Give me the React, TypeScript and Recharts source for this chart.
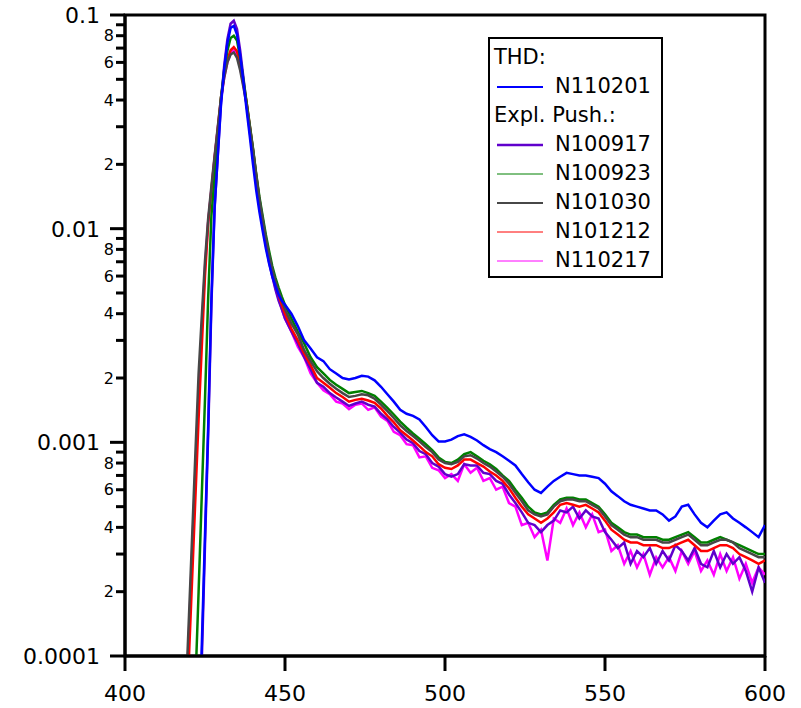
import React from 'react';
import { LineChart, Line, XAxis, YAxis, ReferenceArea, Legend } from 'recharts';

const FONT = '"DejaVu Sans", Verdana, sans-serif';

// Wavelength grid (nm)
const wavelengths = [
  419, 420, 421, 422, 423, 424, 425, 426, 427, 428,
  429, 430, 431, 432, 433, 434, 435, 436, 437, 438,
  439, 440, 441, 442, 443, 444, 445, 446, 447, 448,
  449, 450,
  452, 454, 456, 458, 460, 462, 464, 466, 468, 470,
  472, 474, 476, 478, 480, 482, 484, 486, 488, 490,
  492, 494, 496, 498, 500, 502, 504, 506, 508, 510,
  512, 514, 516, 518, 520, 522, 524, 526, 528, 530,
  532, 534, 536, 538, 540, 542, 544, 546, 548, 550,
  552, 554, 556, 558, 560, 562, 564, 566, 568, 570,
  572, 574, 576, 578, 580, 582, 584, 586, 588, 590,
  592, 594, 596, 598, 600,
];

// THD: N110201 (blue)
const n110201 = [
  5e-6, 8e-6, 1.2e-5, 2e-5, 3.2e-5, 1.12e-4, 3.7e-4, 1.2e-3, 4.7e-3, 0.0126,
  0.0219, 0.038, 0.056, 0.074, 0.087, 0.089, 0.081, 0.0645, 0.049, 0.036,
  0.027, 0.020, 0.0151, 0.012, 0.0098, 0.0081, 0.0069, 0.006, 0.0054, 0.0049,
  0.0046, 0.0044,
  0.0040, 0.0035, 0.0030, 0.00275, 0.0025, 0.0024, 0.0022, 0.0021, 0.0020, 0.00197,
  0.0020, 0.00205, 0.00203, 0.00195, 0.00182, 0.00168, 0.00155, 0.00142, 0.00136, 0.00133,
  0.00128, 0.00118, 0.00108, 0.00101, 0.00101, 0.00103, 0.00107, 0.00109, 0.00106, 0.00102,
  0.00097, 0.00093, 0.0009, 0.00086, 0.00082, 0.00078, 0.00071, 0.00065, 0.0006, 0.00058,
  0.00062, 0.00066, 0.00069, 0.00072, 0.00071, 0.0007, 0.0007, 0.00069, 0.00068, 0.00064,
  0.00059, 0.00056, 0.00053, 0.00051, 0.0005, 0.00049, 0.00048, 0.00048, 0.00046, 0.00043,
  0.00045, 0.0005, 0.00051, 0.00046, 0.00042, 0.0004, 0.00043, 0.00046, 0.00047, 0.00044,
  0.00042, 0.0004, 0.00038, 0.00036, 0.00041,
];

// Expl. Push.: N100917 (purple)
const n100917 = [
  5e-6, 8e-6, 1.2e-5, 2e-5, 3e-5, 9.5e-5, 3.3e-4, 1.1e-3, 4.4e-3, 0.0124,
  0.0222, 0.039, 0.058, 0.077, 0.091, 0.094, 0.086, 0.068, 0.051, 0.038,
  0.0285, 0.0215, 0.0163, 0.0127, 0.0102, 0.0084, 0.007, 0.006, 0.0052, 0.0046,
  0.0042, 0.0038,
  0.0033, 0.0029, 0.0025, 0.0022, 0.0019, 0.00182, 0.0017, 0.00162, 0.00155, 0.00148,
  0.00152, 0.00155, 0.0015, 0.00147, 0.00136, 0.00128, 0.00118, 0.00111, 0.00103, 0.00099,
  0.00091, 0.00088, 0.0008, 0.00077, 0.00071, 0.00069, 0.00071, 0.00079, 0.00078, 0.00078,
  0.00072, 0.00071, 0.00066, 0.00064, 0.00057, 0.00052, 0.00047, 0.00042, 0.00041, 0.00038,
  0.00041, 0.00043, 0.00048, 0.00047, 0.0005, 0.00044, 0.00048, 0.00045, 0.00044, 0.00038,
  0.00035, 0.00032, 0.00034, 0.00027, 0.00031, 0.00029, 0.00032, 0.00027, 0.00031, 0.00028,
  0.00033, 0.00031, 0.00028, 0.00032, 0.00027, 0.00026, 0.00031, 0.00026, 0.0003, 0.00027,
  0.00029, 0.00025, 0.0002, 0.00026, 0.00022,
];

// N100923 (green)
const n100923 = [
  1.5e-5, 2.6e-5, 4.2e-5, 7.4e-5, 2.0e-4, 5.7e-4, 1.6e-3, 4.8e-3, 0.0115, 0.0174,
  0.0269, 0.041, 0.055, 0.068, 0.078, 0.080, 0.076, 0.063, 0.050, 0.039,
  0.0305, 0.0238, 0.0181, 0.0141, 0.0115, 0.0094, 0.0079, 0.0067, 0.0059, 0.0053,
  0.0048, 0.0044,
  0.0038, 0.0033, 0.0029, 0.0025, 0.00225, 0.0021, 0.00196, 0.00186, 0.00178, 0.0017,
  0.00172, 0.00174, 0.0017, 0.00165, 0.00155, 0.00145, 0.00135, 0.00125, 0.00117, 0.0011,
  0.00104, 0.00098, 0.00092, 0.00085, 0.00081, 0.0008, 0.00083, 0.00088, 0.0009, 0.00086,
  0.00082, 0.00079, 0.00075, 0.0007, 0.00066, 0.0006, 0.00055, 0.0005, 0.00047, 0.00046,
  0.00047, 0.00051, 0.00054, 0.00055, 0.00055, 0.00054, 0.00054, 0.00052, 0.0005, 0.00046,
  0.00042, 0.0004, 0.00038, 0.00037, 0.00037, 0.00036, 0.00036, 0.00036, 0.00035, 0.00035,
  0.00036, 0.00037, 0.00038, 0.00036, 0.00034, 0.00034, 0.00035, 0.00036, 0.00035, 0.00034,
  0.00033, 0.00032, 0.00031, 0.0003, 0.0003,
];

// N101030 (dark grey)
const n101030 = [
  6.5e-5, 1.55e-4, 3.7e-4, 8.9e-4, 2.1e-3, 3.9e-3, 7.1e-3, 0.0112, 0.0158, 0.0219,
  0.030, 0.041, 0.051, 0.060, 0.0653, 0.0668, 0.063, 0.055, 0.046, 0.038,
  0.030, 0.0234, 0.0178, 0.0138, 0.0112, 0.0091, 0.0076, 0.0065, 0.0057, 0.0051,
  0.0046, 0.0042,
  0.0036, 0.0032, 0.0027, 0.0024, 0.00215, 0.0020, 0.00188, 0.00178, 0.0017, 0.00163,
  0.00165, 0.00168, 0.00166, 0.0016, 0.0015, 0.0014, 0.0013, 0.0012, 0.00113, 0.00107,
  0.00101, 0.00095, 0.0009, 0.00083, 0.0008, 0.00079, 0.00081, 0.00086, 0.00087, 0.00084,
  0.0008, 0.00077, 0.00073, 0.00069, 0.00064, 0.00058, 0.00053, 0.00048, 0.00046, 0.00045,
  0.00046, 0.0005, 0.00053, 0.00054, 0.00054, 0.00053, 0.00053, 0.00051, 0.00049, 0.00045,
  0.00041, 0.00039, 0.00037, 0.00036, 0.00036, 0.00035, 0.00035, 0.00035, 0.00034, 0.00034,
  0.00035, 0.00036, 0.00037, 0.00035, 0.00033, 0.00033, 0.00034, 0.00035, 0.00035, 0.00034,
  0.00032, 0.00031, 0.0003, 0.00029, 0.00029,
];

// N101212 (red)
const n101212 = [
  4.3e-5, 1.0e-4, 2.34e-4, 5.5e-4, 1.29e-3, 2.8e-3, 6.0e-3, 0.0107, 0.0151, 0.0214,
  0.0295, 0.041, 0.0525, 0.0617, 0.0684, 0.0708, 0.0676, 0.0589, 0.0479, 0.039,
  0.0303, 0.0234, 0.0178, 0.0137, 0.011, 0.0089, 0.0074, 0.0063, 0.0055, 0.0049,
  0.0044, 0.0040,
  0.0034, 0.003, 0.0026, 0.0023, 0.002, 0.0019, 0.0018, 0.0017, 0.00163, 0.00155,
  0.00158, 0.0016, 0.00157, 0.00153, 0.00144, 0.00133, 0.00124, 0.00114, 0.00108, 0.00102,
  0.00096, 0.0009, 0.00086, 0.00079, 0.00076, 0.00075, 0.00078, 0.00083, 0.00083, 0.0008,
  0.00077, 0.00073, 0.0007, 0.00066, 0.00061, 0.00055, 0.0005, 0.00046, 0.00044, 0.00042,
  0.00044, 0.00047, 0.00051, 0.00052, 0.00051, 0.0005, 0.00051, 0.00049, 0.00047, 0.00043,
  0.00039, 0.00037, 0.00035, 0.00034, 0.00034, 0.00033, 0.00033, 0.00033, 0.00032, 0.00032,
  0.00033, 0.00034, 0.00035, 0.00033, 0.00031, 0.00031, 0.00032, 0.00033, 0.00033, 0.00032,
  0.0003, 0.00029, 0.00028, 0.00027, 0.00028,
];

// N110217 (magenta)
const n110217 = [
  5.5e-5, 1.3e-4, 3.1e-4, 7.4e-4, 1.7e-3, 3.4e-3, 6.6e-3, 0.0108, 0.0153, 0.0215,
  0.0295, 0.040, 0.051, 0.060, 0.066, 0.0685, 0.0655, 0.057, 0.047, 0.0385,
  0.0298, 0.023, 0.0174, 0.0134, 0.0107, 0.0087, 0.0072, 0.0061, 0.0053, 0.0047,
  0.0042, 0.0038,
  0.0033, 0.0028, 0.0025, 0.0021, 0.0019, 0.00175, 0.00168, 0.00155, 0.00152, 0.00143,
  0.0015, 0.00152, 0.00142, 0.00146, 0.00132, 0.00126, 0.00112, 0.00108, 0.00098, 0.00097,
  0.00085, 0.00086, 0.00076, 0.00074, 0.00068, 0.00071, 0.00066, 0.00079, 0.00072, 0.00076,
  0.00066, 0.00068, 0.0006, 0.00062, 0.00052, 0.0005, 0.00041, 0.00042, 0.00036, 0.00039,
  0.00028, 0.00044, 0.00042, 0.00049, 0.00041, 0.00047, 0.0004, 0.00046, 0.00038, 0.00039,
  0.00031, 0.00033, 0.00027, 0.00031, 0.00026, 0.0003, 0.00024, 0.00029, 0.00026, 0.00029,
  0.00025, 0.00031, 0.00027, 0.00031, 0.00025, 0.00028, 0.00024, 0.0003, 0.00025, 0.00029,
  0.00023, 0.00027, 0.00022, 0.00026, 0.00024,
];

const xTicks = [400, 450, 500, 550, 600];
const yDecades = [0.0001, 0.001, 0.01, 0.1];
const yDecadeLabels = ['0.0001', '0.001', '0.01', '0.1'];
const yMinorLabelled = [2, 4, 6, 8];
const yMultipliers = [1, 2, 3, 4, 5, 6, 7, 8, 9];

type SeriesDef = { key: string; name: string; color: string; legendWidth: number; group: string };

const SERIES: SeriesDef[] = [
  { key: 'n110201', name: 'N110201', color: '#0000ff', legendWidth: 2, group: 'THD:' },
  { key: 'n100917', name: 'N100917', color: '#6000cc', legendWidth: 2.5, group: 'Expl. Push.:' },
  { key: 'n100923', name: 'N100923', color: '#008000', legendWidth: 1, group: 'Expl. Push.:' },
  { key: 'n101030', name: 'N101030', color: '#474747', legendWidth: 2, group: 'Expl. Push.:' },
  { key: 'n101212', name: 'N101212', color: '#ff0000', legendWidth: 1, group: 'Expl. Push.:' },
  { key: 'n110217', name: 'N110217', color: '#ff00ff', legendWidth: 1, group: 'Expl. Push.:' },
];

const seriesValues: Record<string, number[]> = {
  n110201, n100917, n100923, n101030, n101212, n110217,
};

const data = wavelengths.map((w, i) => {
  const row: Record<string, number> = { w };
  SERIES.forEach((s) => {
    row[s.key] = seriesValues[s.key][i];
  });
  return row;
});

const yTicks: number[] = [];
yDecades.forEach((d, di) => {
  if (di === yDecades.length - 1) {
    yTicks.push(d);
  } else {
    yMultipliers.forEach((m) => yTicks.push(m * d));
  }
});

const YTick = (props: any) => {
  const { x, y, payload } = props;
  const v = payload.value as number;
  const e = Math.floor(Math.log10(v) + 1e-9);
  const m = Math.round(v / Math.pow(10, e));
  const major = m === 1;
  const len = major ? 15 : 9;
  let label = '';
  if (major) {
    const idx = yDecades.findIndex((d) => Math.abs(Math.log10(d) - Math.log10(v)) < 1e-6);
    label = idx >= 0 ? yDecadeLabels[idx] : '';
  } else if (yMinorLabelled.includes(m)) {
    label = String(m);
  }
  return (
    <g>
      <line x1={x - len} x2={x} y1={y} y2={y} stroke="#000" strokeWidth={3} />
      {label ? (
        <text
          x={x - len - (major ? 10 : 2)}
          y={y}
          dy="0.36em"
          textAnchor="end"
          fontSize={major ? 22 : 16}
          fontFamily={FONT}
          fill="#000"
        >
          {label}
        </text>
      ) : null}
    </g>
  );
};

const LegendBox = () => {
  const rows: { header?: string; s?: SeriesDef }[] = [];
  let lastGroup = '';
  SERIES.forEach((s) => {
    if (s.group !== lastGroup) {
      rows.push({ header: s.group });
      lastGroup = s.group;
    }
    rows.push({ s });
  });
  return (
    <div
      style={{
        width: 175,
        height: 241,
        boxSizing: 'border-box',
        border: '2px solid #000',
        background: '#fff',
        paddingTop: 4,
        fontFamily: FONT,
        fontSize: 21,
        color: '#000',
      }}
    >
      {rows.map((r, i) => (
        <div key={i} style={{ height: 29, position: 'relative', lineHeight: '29px', whiteSpace: 'nowrap' }}>
          {r.header ? (
            <span style={{ position: 'absolute', left: 4, top: 0 }}>{r.header}</span>
          ) : (
            <>
              <svg width={60} height={29} style={{ position: 'absolute', left: 0, top: 0 }}>
                <line x1={7} x2={53} y1={15} y2={15} stroke={r.s!.color} strokeWidth={r.s!.legendWidth} />
              </svg>
              <span style={{ position: 'absolute', left: 65, top: 0 }}>{r.s!.name}</span>
            </>
          )}
        </div>
      ))}
    </div>
  );
};

const drawOrder = ['n110217', 'n100917', 'n101212', 'n100923', 'n101030', 'n110201'];

export default function App() {
  return (
    <div style={{ position: 'absolute', left: 0, top: 0, width: 801, height: 708, background: '#fff', fontFamily: FONT }}>
      <LineChart width={801} height={708} data={data} margin={{ top: 15, right: 36, bottom: 12, left: 25 }}>
        <XAxis
          dataKey="w"
          type="number"
          domain={[400, 600]}
          ticks={xTicks}
          interval={0}
          allowDataOverflow
          height={40}
          tickSize={15}
          tickMargin={14}
          axisLine={{ stroke: '#000', strokeWidth: 3 }}
          tickLine={{ stroke: '#000', strokeWidth: 3 }}
          tick={{ fill: '#000', fontSize: 22, fontFamily: FONT }}
        />
        <YAxis
          type="number"
          scale="log"
          domain={[0.0001, 0.1]}
          allowDataOverflow
          ticks={yTicks}
          interval={0}
          width={100}
          tickSize={0}
          tickMargin={0}
          tickLine={false}
          axisLine={{ stroke: '#000', strokeWidth: 3 }}
          tick={<YTick />}
        />
        <ReferenceArea
          x1={400}
          x2={600}
          y1={0.0001}
          y2={0.1}
          fill="none"
          fillOpacity={0}
          stroke="#000"
          strokeWidth={3}
          ifOverflow="visible"
        />
        {drawOrder.map((k) => {
          const s = SERIES.find((d) => d.key === k)!;
          return (
            <Line
              key={k}
              dataKey={k}
              name={s.name}
              type="linear"
              stroke={s.color}
              strokeWidth={2.5}
              dot={false}
              activeDot={false}
              isAnimationActive={false}
            />
          );
        })}
        <Legend
          layout="vertical"
          align="center"
          verticalAlign="middle"
          content={() => <LegendBox />}
          wrapperStyle={{ left: 488, top: 37, width: 175, height: 241 }}
        />
      </LineChart>
    </div>
  );
}
